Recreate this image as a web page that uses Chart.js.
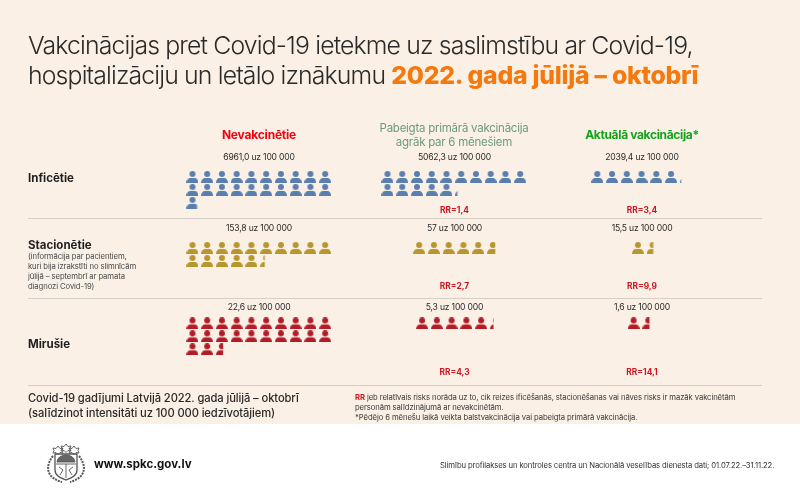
<!DOCTYPE html>
<html lang="lv">
<head>
<meta charset="utf-8">
<title>Vakcinācijas ietekme</title>
<script src="https://cdn.jsdelivr.net/npm/chart.js@4"></script>
<style>
  html, body { margin: 0; padding: 0; background: #fff; }
  #page { position: relative; width: 800px; height: 498px; overflow: hidden; background: #fff;
          font-family: Inter, "Open Sans", sans-serif; color: #2a2a2a; }
  #band { position: absolute; left: 0; top: 0; width: 800px; height: 424px; background: #faf0e6; }
  #chart { position: absolute; left: 0; top: 0; }
  .t { position: absolute; white-space: nowrap; line-height: 1; }
  .c { transform: translateX(-50%); text-align: center; }
  .rule { position: absolute; left: 28px; width: 734px; height: 1px; background: #d6cfc6; }
  .val { font-size: 8.6px; letter-spacing: -0.2px; }
  .rr { font-size: 8.4px; font-weight: 700; color: #d0121f; }
  .row { font-size: 11.5px; font-weight: 700; color: #1f1f1f; }
  .small { font-size: 7.7px; letter-spacing: -0.1px; line-height: 10px; color: #4a4a4a; }
</style>
</head>
<body>
<div id="page">
  <div id="band"></div>
  <canvas id="chart" width="800" height="498"></canvas>

  <div class="t" style="left:28px;top:33px;font-size:24.8px;letter-spacing:-0.85px;font-weight:300">Vakcinācijas pret Covid-19 ietekme uz saslimstību ar Covid-19,</div>
  <div class="t" style="left:28px;top:63px;font-size:24.8px;letter-spacing:-0.85px;font-weight:300">hospitalizāciju un letālo iznākumu <span style="font-weight:800;color:#f47a0f;letter-spacing:-0.25px">2022. gada jūlijā – oktobrī</span></div>

  <div class="t c" style="left:259px;top:129px;font-size:12px;font-weight:700;color:#f2000f;letter-spacing:-0.2px">Nevakcinētie</div>
  <div class="t c" style="left:454px;top:121px;font-size:11.5px;line-height:14px;color:#6d9c7e;letter-spacing:-0.25px">Pabeigta primārā vakcinācija<br>agrāk par 6 mēnešiem</div>
  <div class="t c" style="left:642px;top:129px;font-size:12px;font-weight:700;color:#14a31c;letter-spacing:-0.35px">Aktuālā vakcinācija*</div>

  <div class="t row" style="left:28px;top:173px">Inficētie</div>
  <div class="t row" style="left:28px;top:240px">Stacionētie</div>
  <div class="t small" style="left:28px;top:252px">(informācija par pacientiem,<br>kuri bija izrakstīti no slimnīcām<br>jūlijā – septembrī ar pamata<br>diagnozi Covid-19)</div>
  <div class="t row" style="left:28px;top:339px">Mirušie</div>

  <div class="rule" style="top:218px"></div>
  <div class="rule" style="top:298px"></div>
  <div class="rule" style="top:385px"></div>

  <div class="t" style="left:28px;top:391px;font-size:11.2px;line-height:14.5px;font-weight:500;letter-spacing:-0.1px">Covid-19 gadījumi Latvijā 2022. gada jūlijā – oktobrī<br>(salīdzinot intensitāti uz 100 000 iedzīvotājiem)</div>
  <div class="t small" style="left:355px;top:393px;color:#3a3a3a"><b style="color:#d0121f">RR</b> jeb relatīvais risks norāda uz to, cik reizes ificēšanās, stacionēšanas vai nāves risks ir mazāk vakcinētām<br>personām salīdzinājumā ar nevakcinētām.<br>*Pēdējo 6 mēnešu laikā veikta balstvakcinācija vai pabeigta primārā vakcinācija.</div>

  <svg style="position:absolute;left:44px;top:442px" width="44" height="42" viewBox="0 0 44 42" fill="none" stroke="#555" stroke-width="0.9">
    <path d="M14 4l2 2.500 3-.5-1 2.500 1 2.500-3-.5-2 2-2-2-3 .5 1-2.500-1-2.500 3 .5zM22 2l2 2.500 3-.5-1 2.500 1 2.500-3-.5-2 2-2-2-3 .5 1-2.500-1-2.500 3 .5zM30 4l2 2.500 3-.5-1 2.500 1 2.500-3-.5-2 2-2-2-3 .5 1-2.500-1-2.500 3 .5z"/>
    <path d="M11 12h22v16c0 6-6 8-11 10-5-2-11-4-11-10z" stroke-width="1.300"/>
    <path d="M13 20a9 7 0 0 1 18 0z" fill="#666"/>
    <path d="M12 22h20M22 22v14M15 25l4 3-3 5M29 25l-4 3 3 5"/>
    <path d="M9 14c-5 6-7 14-2 20 3 3 7 5 11 6M35 14c5 6 7 14 2 20-3 3-7 5-11 6" stroke-width="2" stroke-dasharray="2 1"/>
  </svg>
  <div class="t" style="left:94px;top:459px;font-size:11.5px;font-weight:700;color:#111">www.spkc.gov.lv</div>
  <div class="t small" style="left:440px;top:461px;letter-spacing:-0.12px;color:#333">Slimību profilakses un kontroles centra un Nacionālā veselības dienesta dati; 01.07.22.–31.11.22.</div>
</div>

<script>
// Dati: gadījumi uz 100 000 iedzīvotāju
const infected = [6961.0, 5062.3, 2039.4];
const hospitalised = [153.8, 57, 15.5];
const deceased = [22.6, 5.3, 1.6];

// Cik gadījumu attēlo viena ikona
const perIcon = [333.33, 10, 1];

const valueLabels = [
    ['6961,0 uz 100 000', '5062,3 uz 100 000', '2039,4 uz 100 000'],
    ['153,8 uz 100 000', '57 uz 100 000', '15,5 uz 100 000'],
    ['22,6 uz 100 000', '5,3 uz 100 000', '1,6 uz 100 000']
];
const rrLabels = [
    ['', 'RR=1,4', 'RR=3,4'],
    ['', 'RR=2,7', 'RR=9,9'],
    ['', 'RR=4,3', 'RR=14,1']
];

// Izkārtojums (pikseļos)
const pitchX = 14.93;
const pitchY = 13.2;
const iconsPerRow = 10;
const columnCenters = [257, 454.5, 638];
const lastColumnNudge = [0, 7, 3]; // trešajā kolonnā rindas nav precīzi centrētas
const rowTops = [175.5, 248, 325];
const rowColors = ['#5a7fae', '#b8962e', '#b31b27'];
const labelCenters = [259, 454.5, 642];
const valueTops = [153, 224, 303];
const rrTops = [206, 282, 368];

const iconCache = {};

// Ikona kā canvas; daļējai ikonai nogriež labo pusi
function makeIcon(color, fraction) {
    const key = color + fraction.toFixed(2);
    if (iconCache[key]) return iconCache[key];
    const c = document.createElement('canvas');
    c.width = 12;
    c.height = 12;
    const g = c.getContext('2d');
    g.beginPath();
    g.rect(0, 0, 12 * fraction, 12);
    g.clip();
    g.fillStyle = color;
    g.beginPath();
    g.arc(6, 3, 3, 0, Math.PI * 2);
    g.fill();
    g.beginPath();
    g.moveTo(0, 12);
    g.bezierCurveTo(0, 9, 1.5, 7, 4, 7);
    g.lineTo(8, 7);
    g.bezierCurveTo(10.5, 7, 12, 9, 12, 12);
    g.closePath();
    g.fill();
    iconCache[key] = c;
    return c;
}

function panelDataset(value, unit, rowIndex, colIndex) {
    const count = value / unit;
    const wide = Math.min(count, iconsPerRow);
    const nudge = colIndex === 2 ? lastColumnNudge[rowIndex] : 0;
    const startX = (columnCenters[colIndex] + nudge) / pitchX - (wide - 1) / 2;
    const startY = rowTops[rowIndex] / pitchY;
    const points = [];
    const styles = [];
    for (let i = 0; i < Math.ceil(count); i++) {
        points.push({ x: startX + i % iconsPerRow, y: startY + Math.floor(i / iconsPerRow) });
        styles.push(makeIcon(rowColors[rowIndex], Math.min(count - i, 1)));
    }
    return { data: points, pointStyle: styles, showLine: false };
}

const datasets = [];
[infected, hospitalised, deceased].forEach(function (series, r) {
    series.forEach(function (v, c) {
        datasets.push(panelDataset(v, perIcon[r], r, c));
    });
});

const chart = new Chart(document.getElementById('chart'), {
    type: 'scatter',
    data: { datasets: datasets },
    options: {
        responsive: false,
        animation: false,
        devicePixelRatio: 1,
        layout: { padding: 0 },
        plugins: { legend: { display: false }, tooltip: { enabled: false } },
        scales: {
            x: { display: false, min: 0, max: 800 / pitchX },
            y: { display: false, min: 0, max: 498 / pitchY, reverse: true }
        }
    }
});

// Vērtību un RR uzraksti
const page = document.getElementById('page');
function addLabel(text, cls, left, top) {
    if (!text) return;
    const d = document.createElement('div');
    d.className = 't c ' + cls;
    d.style.left = left + 'px';
    d.style.top = top + 'px';
    d.textContent = text;
    page.appendChild(d);
}
valueLabels.forEach(function (row, r) {
    row.forEach(function (txt, c) {
        addLabel(txt, 'val', labelCenters[c], valueTops[r]);
        addLabel(rrLabels[r][c], 'rr', labelCenters[c], rrTops[r]);
    });
});
</script>
</body>
</html>
